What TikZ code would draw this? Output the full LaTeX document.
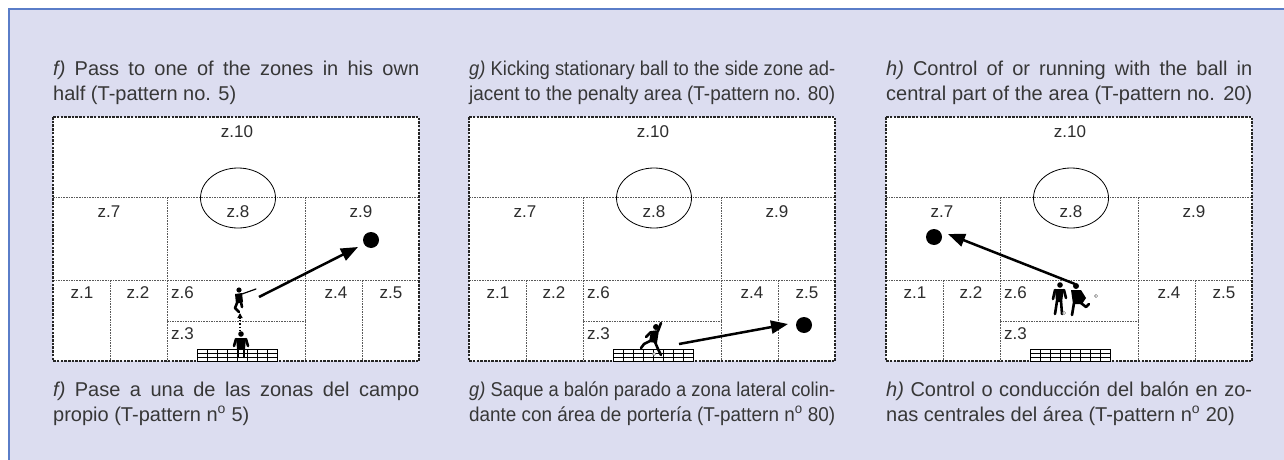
\documentclass[tikz,border=0pt]{standalone}
\usepackage{fontspec}
\setmainfont{Liberation Sans}
\usepackage{graphicx}
\usetikzlibrary{arrows.meta}
\definecolor{lav}{RGB}{220,221,240}
\definecolor{bord}{RGB}{90,125,200}
\definecolor{txt}{RGB}{55,55,55}
\definecolor{zone}{RGB}{45,45,45}
\newcommand\JustLine[1]{\sbox0{#1}\ifdim\wd0>366pt\relax\resizebox{366pt}{\height}{\usebox0}\else\makebox[366pt][s]{#1}\fi}
\newcommand\DrawField[2]{%
\begin{scope}[shift={(#2,0)}]
\fill[white] (0,117) rectangle (366,361);
\draw[fieldin] (0,197) -- (366,197);
\draw[fieldin] (0,280) -- (366,280);
\draw[fieldin] (114,197) -- (114,361);
\draw[fieldin] (252,197) -- (252,361);
\draw[fieldin] (57,280) -- (57,361);
\draw[fieldin] (309,280) -- (309,361);
\draw[fieldin] (114,321) -- (252,321);
\draw[fieldout] (0,117) rectangle (366,361);
\draw[line width=0.8pt] (185,198) ellipse [x radius=37.5pt, y radius=30pt];
\node[zlab] (#1z10) at (184,137) {z.10};
\node[zlab] (#1z7) at (56,217) {z.7};
\node[zlab] (#1z8) at (185,217) {z.8};
\node[zlab] (#1z9) at (308,217) {z.9};
\node[zlab] (#1z1) at (29,298) {z.1};
\node[zlab] (#1z2) at (85,298) {z.2};
\node[zlab,anchor=base west] (#1z6) at (118,298) {z.6};
\node[zlab] (#1z4) at (283,298) {z.4};
\node[zlab] (#1z5) at (338,298) {z.5};
\node[zlab,anchor=base west] (#1z3) at (118,339) {z.3};
\fill[white] (144,349) rectangle (224,361);
\draw[goalst] (144,349) rectangle (224,361);
\foreach \gy in {353,357} {\draw[goalst] (144,\gy) -- (224,\gy);}
\foreach \gx in {154,164,174,184,194,204,214} {\draw[goalst] (\gx,349) -- (\gx,361);}
\end{scope}}
\tikzset{
  captxt/.style={anchor=base west, inner sep=0pt, text=txt, font=\fontsize{20}{25}\selectfont},
  zlab/.style={anchor=base, inner sep=0pt, text=zone, font=\fontsize{17}{20}\selectfont},
  fieldout/.style={line width=1.4pt, dash pattern=on 2.5pt off 1.2pt, black!85},
  fieldin/.style={line width=1pt, dash pattern=on 1.6pt off 1pt, black!65},
  ballst/.style={circle, fill=black, minimum size=16pt, inner sep=0pt},
  arr/.style={line width=2.5pt, -{Triangle[length=17pt,width=13pt]}},
  goalst/.style={line width=0.9pt},
  limb/.style={line width=2.6pt, line cap=round, line join=round},
  thinlimb/.style={line width=1.2pt, line cap=round},
  mini/.style={fill=white, draw=black!60, line width=0.5pt}
}
\begin{document}
\begin{tikzpicture}[x=1pt,y=-1pt]
\useasboundingbox (0,0) rectangle (1284,460);
\fill[white] (0,0) rectangle (1284,460);
\fill[lav] (9,9) rectangle (1300,480);
\draw[bord, line width=1.5pt] (9,480) -- (9,9) -- (1300,9);

% captions top
\node[captxt] (fc1) at (53,75) {\JustLine{\textit{f)} Pass to one of the zones in his own}};
\node[captxt] (fc2) at (53,100) {half (T-pattern no. 5)};
\node[captxt] (gc1) at (469,75) {\JustLine{\textit{g)} Kicking stationary ball to the side zone ad-}};
\node[captxt] (gc2) at (469,100) {\JustLine{jacent to the penalty area (T-pattern no. 80)}};
\node[captxt] (hc1) at (886,75) {\JustLine{\textit{h)} Control of or running with the ball in}};
\node[captxt] (hc2) at (886,100) {\JustLine{central part of the area (T-pattern no. 20)}};

% fields
\DrawField{f}{53}
\DrawField{g}{469}
\DrawField{h}{886}

% captions bottom
\node[captxt] (fb1) at (53,396) {\JustLine{\textit{f)} Pase a una de las zonas del campo}};
\node[captxt] (fb2) at (53,421) {propio (T-pattern n\textsuperscript{o} 5)};
\node[captxt] (gb1) at (469,396) {\JustLine{\textit{g)} Saque a balón parado a zona lateral colin-}};
\node[captxt] (gb2) at (469,421) {\JustLine{dante con área de portería (T-pattern n\textsuperscript{o} 80)}};
\node[captxt] (hb1) at (886,396) {\JustLine{\textit{h)} Control o conducción del balón en zo-}};
\node[captxt] (hb2) at (886,421) {nas centrales del área (T-pattern n\textsuperscript{o} 20)};

% panel f: players
\fill (239,290) circle (2.6pt);
\fill (235,294) -- (242,293) -- (243,302) -- (236,304) -- cycle;
\draw[thinlimb] (242,294) -- (256,289);
\draw[limb] (237,303) -- (235,308) -- (239,312);
\draw[limb] (241,302) -- (242,307);
\fill (241,334) circle (2.8pt);
\fill (236,338) -- (246,338) -- (245,349) -- (237,349) -- cycle;
\draw[limb] (236,339) -- (234,346);
\draw[limb] (246,339) -- (248,346);
\draw[limb] (238,349) -- (238,357);
\draw[limb] (244,349) -- (244,357);
\coordinate (fk) at (240,331);
\coordinate (fp) at (240,313);
\draw[dotted, line width=1.2pt, -{Triangle[length=5pt,width=5pt]}] (fk) -- (fp);
\node[ballst] (fball) at (371,240) {};
\coordinate (fs) at (259,297);
\coordinate (ft) at (358,247);
\draw[arr] (fs) -- (ft);

% panel g: kicker
\fill (656,327) circle (3pt);
\fill (651,331) -- (659,330) -- (657,343) -- (649,342) -- cycle;
\draw[limb] (658,331) -- (661,323);
\draw[limb] (651,332) -- (646,337);
\draw[limb] (650,341) -- (644,344) -- (641,348);
\draw[limb] (655,342) -- (658,349) -- (661,355);
\fill[mini] (654,354) circle (1.6pt);
\node[ballst] (gball) at (804,325) {};
\coordinate (gs) at (679,344);
\coordinate (gt) at (788,324);
\draw[arr] (gs) -- (gt);

% panel h: two players
\fill (1060,285) circle (2.8pt);
\fill (1055,289) -- (1064,289) -- (1062,302) -- (1056,302) -- cycle;
\draw[limb] (1055,290) -- (1053,299);
\draw[limb] (1064,290) -- (1066,298);
\draw[limb] (1057,301) -- (1055,314);
\draw[limb] (1061,301) -- (1062,314);
\fill (1076,286) circle (3pt);
\fill (1071,290) -- (1081,290) -- (1086,298) -- (1082,304) -- (1073,304) -- cycle;
\draw[limb] (1074,303) -- (1073,309) -- (1072,315);
\draw[limb] (1081,303) -- (1086,307) -- (1089,304);
\fill[mini] (1064,313) circle (1.6pt);
\fill[mini] (1096,296) circle (1.6pt);
\node[ballst] (hball) at (934,237) {};
\coordinate (hs) at (1075,284);
\coordinate (ht) at (948,234);
\draw[arr] (hs) -- (ht);
\end{tikzpicture}
\end{document}
